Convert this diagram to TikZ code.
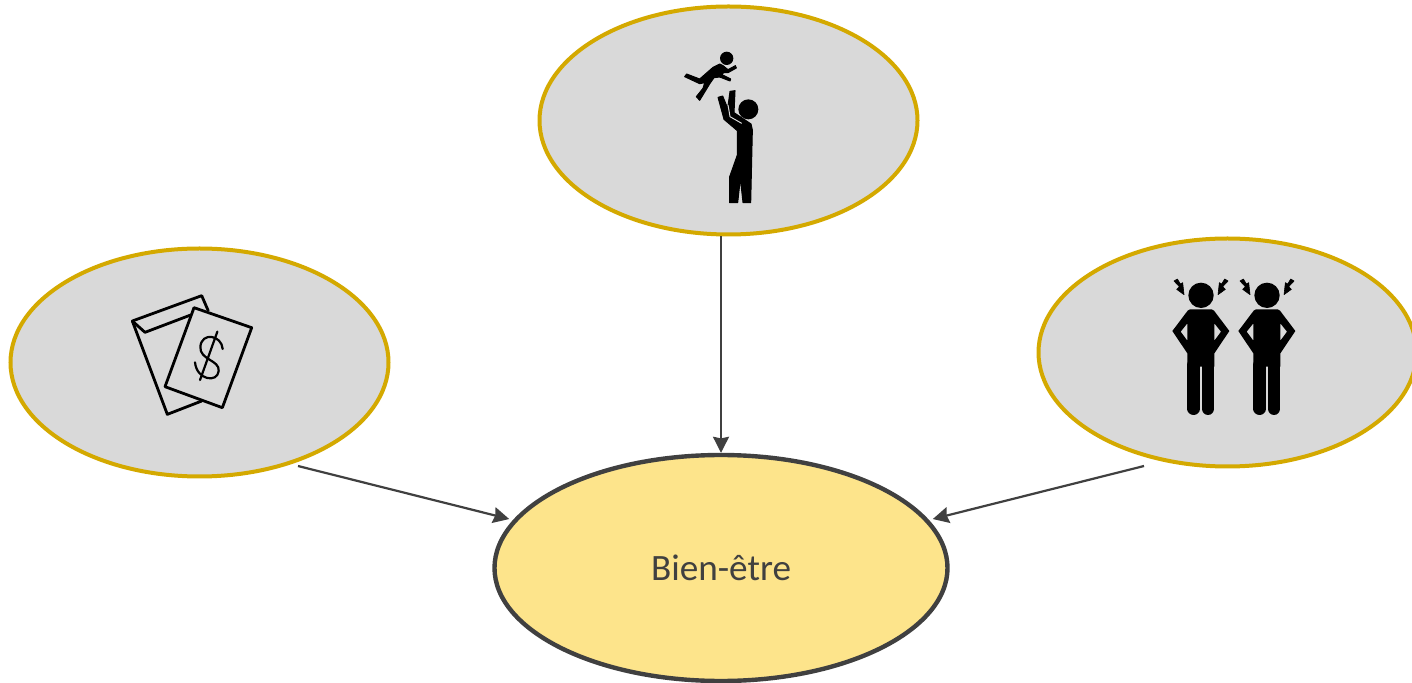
\documentclass[tikz,border=0pt]{standalone}
\usepackage{fontspec}
\setmainfont{Carlito}
\usetikzlibrary {arrows.meta,shapes.geometric}

\definecolor{causefill}{HTML}{D9D9D9}
\definecolor{causeline}{HTML}{D4A900}
\definecolor{effectfill}{HTML}{FDE48B}
\definecolor{darkline}{HTML}{404040}

\tikzset{
  cause/.style={ellipse, draw=causeline, fill=causefill, line width=2pt, minimum width=189pt, minimum height=114pt, inner sep=0pt},
  effect/.style={ellipse, draw=darkline, fill=effectfill, line width=2.2pt, minimum width=226.5pt, minimum height=113pt, inner sep=0pt, text=darkline, font=\fontsize{18.6}{22}\selectfont},
  link/.style={draw=darkline, line width=1.1pt, -{Stealth[length=8pt,width=8pt,inset=0.8pt]}},
  iconline/.style={line width=1.4pt, line join=round, draw=black},
  iconfill/.style={fill=black, draw=black, line width=0.5pt, line join=round}
}

\begin{document}
\begin{tikzpicture}[x=0.5pt, y=-0.5pt]

\useasboundingbox (0,0) rectangle (1412,683);

\node [cause] (parent) at (728.5,120.5) {};
\node [cause] (money) at (199.5,362.5) {};
\node [cause] (conflict) at (1227.5,352.5) {};
\node [effect] (wellbeing) at (721,568) {\raisebox{-1pt}{Bien-être}};

\coordinate (moneyout) at (298,466);
\coordinate (conflictout) at (1144,466);

\draw [link] (parent.south -| wellbeing.north) -- (wellbeing.north);
\draw [link, shorten >=2pt] (moneyout) -- (wellbeing.167);
\draw [link, shorten >=2pt] (conflictout) -- (wellbeing.13);

\begin{scope}[shift={(660,40)}, x=0.1667pt, y=-0.1667pt]
\fill (265,208) circle [radius=30];
\fill (200,55) circle [radius=20];
\path [iconfill] (174,172) -- (188,168) -- (203,205) -- (210,154) -- (225,152) -- (222,218) -- (273,252) -- (277,270) -- (272,488) -- (249,488) -- (241,415) -- (233,488) -- (209,488) -- (209,410) -- (232,345) -- (232,272) -- (192,238) -- cycle;
\draw [causefill, line width=0.5pt] (204,195) -- (210,230) -- (245,250);
\path [iconfill] (74,110) -- (80,102) -- (119,117) -- (159,82) -- (179,72) -- (189,77) -- (204,89) -- (226,77) -- (229,84) -- (204,98) -- (192,98) -- (184,103) -- (212,117) -- (210,123) -- (179,111) -- (162,113) -- (150,130) -- (119,181) -- (109,170) -- (129,145) -- (134,128) -- (119,131) -- cycle;
\end{scope}

\begin{scope}[shift={(120,285)}, x=0.1667pt, y=-0.1667pt]
\draw [iconline] (265,78) -- (245,32) -- (37,108) -- (142,388) -- (245,348);
\draw [iconline] (37,108) -- (75,142) -- (212,90);
\draw [iconline] (222,68) -- (395,128) -- (307,368) -- (135,305) -- cycle;
\draw [iconline, line width=1.1pt, line cap=round] (308,192) .. controls (305,150) and (245,140) .. (241,185) .. controls (238,225) and (300,225) .. (296,258) .. controls (292,295) and (230,285) .. (225,232);
\draw [iconline, line width=1.1pt, line cap=round] (292,140) -- (240,285);
\end{scope}

\foreach \offset in {0,66} {
\begin{scope}[shift={(1160+\offset,270)}, x=0.1667pt, y=-0.1667pt]
\fill (123,76) circle [radius=38];
\fill [even odd rule] (90,118) -- (155,118) -- (162,122) -- (208,183) -- (163,250) -- (163,290) -- (82,290) -- (82,250) -- (37,183) -- (83,122) -- cycle (82,160) -- (62,185) -- (82,212) -- cycle (163,160) -- (183,185) -- (163,212) -- cycle;
\draw [line width=6.3pt, line cap=round] (101,285) -- (101,416);
\draw [line width=6.3pt, line cap=round] (144,285) -- (144,416);
\path [iconfill, line width=0.3pt] (42,33) -- (52,27) -- (61,42) -- (68,38) -- (72,74) -- (50,58) -- (58,50) -- cycle;
\path [iconfill, line width=0.3pt] (204,33) -- (194,27) -- (185,42) -- (178,38) -- (174,74) -- (196,58) -- (188,50) -- cycle;
\end{scope}
}

\end{tikzpicture}
\end{document}
